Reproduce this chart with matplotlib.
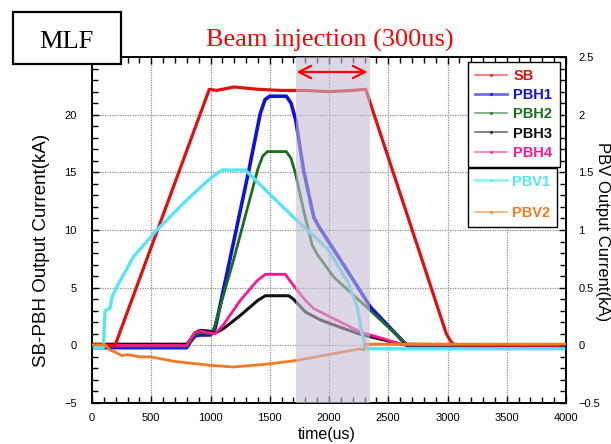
import matplotlib
matplotlib.use("Agg")
import matplotlib.pyplot as plt
from matplotlib.lines import Line2D
from matplotlib.patches import Rectangle
from matplotlib.ticker import MultipleLocator

plt.rcParams['font.family'] = ['Liberation Sans', 'DejaVu Sans']

# ---- data (time in us, SB/PBH in kA on left axis, PBV in kA on right axis) ----
sb_t = [0, 195, 990, 1050, 1200, 1400, 1600, 1800, 2000, 2200, 2310, 2760, 2990, 3030, 3060, 4000]
sb_v = [0, 0, 22.2, 22.1, 22.4, 22.2, 22.1, 22.1, 22.0, 22.1, 22.2, 8.2, 1.0, 0.3, 0.05, 0.05]

pbh1_t = [0, 800, 830, 870, 910, 1000, 1040, 1165, 1320, 1420, 1460, 1500, 1640, 1680, 1720, 1785,
          1872, 1914, 2097, 2351, 2665, 4000]
pbh1_v = [-0.2, -0.2, 0.3, 0.8, 0.9, 0.9, 1.5, 7.5, 15.0, 20.1, 21.3, 21.6, 21.6, 21.0, 19.5, 15.2,
          11.1, 10.3, 7.4, 3.3, -0.1, -0.1]

pbh2_t = [0, 800, 830, 870, 910, 1000, 1030, 1200, 1400, 1440, 1480, 1640, 1680, 1717, 1790, 1858,
          1900, 2041, 2351, 2665, 4000]
pbh2_v = [-0.1, -0.1, 0.3, 0.9, 1.1, 1.0, 1.5, 7.6, 15.3, 16.4, 16.8, 16.8, 16.2, 14.9, 11.5, 8.7,
          7.9, 5.9, 3.0, 0.0, 0.0]

pbh3_t = [0, 800, 830, 870, 913, 980, 1040, 1110, 1252, 1400, 1463, 1660, 1700, 1800, 1928, 2100,
          2266, 2450, 2605, 4000]
pbh3_v = [0.1, 0.1, 0.5, 1.1, 1.3, 1.25, 1.07, 1.45, 2.6, 3.9, 4.3, 4.3, 4.0, 2.9, 2.2, 1.55,
          0.95, 0.5, 0.1, 0.0]

pbh4_t = [0, 800, 830, 870, 913, 980, 1040, 1110, 1252, 1393, 1463, 1630, 1700, 1800, 1872, 2266,
          2450, 2620, 4000]
pbh4_v = [0.0, 0.0, 0.5, 1.1, 1.25, 1.1, 1.0, 1.8, 3.9, 5.6, 6.16, 6.16, 5.2, 3.9, 3.18, 1.15,
          0.6, 0.05, 0.0]

pbv1_t = [0, 96, 110, 150, 170, 209, 349, 547, 800, 1000, 1097, 1294, 1421, 1731, 1985, 2154,
          2238, 2280, 2309, 4000]
pbv1_v = [-0.02, -0.02, 0.30, 0.32, 0.42, 0.506, 0.766, 1.0, 1.26, 1.45, 1.52, 1.52, 1.39, 1.08,
          0.84, 0.56, 0.33, 0.10, -0.03, -0.03]

pbv2_t = [0, 110, 150, 200, 250, 300, 400, 496, 700, 998, 1195, 1505, 1731, 2041, 2266, 2290,
          2310, 4000]
pbv2_v = [0.005, 0.005, -0.04, -0.06, -0.09, -0.08, -0.10, -0.10, -0.14, -0.173, -0.188, -0.16,
          -0.13, -0.072, -0.03, -0.04, 0.01, 0.01]

inj_start, inj_end = 1725, 2350
arrow_y = 23.7

x_ticks = [0, 500, 1000, 1500, 2000, 2500, 3000, 3500, 4000]
left_ticks = [-5, 0, 5, 10, 15, 20]
right_ticks = [-0.5, 0, 0.5, 1, 1.5, 2, 2.5]

# ---- figure ----
W, H = 611, 444
fig = plt.figure(figsize=(W / 100, H / 100), dpi=100)
ax = fig.add_axes([92 / W, 1 - 403 / H, (566 - 92) / W, (403 - 57) / H])
ax2 = ax.twinx()

red, blue, green, black, pink, cyan, orange = ('#e01010', '#1010e0', '#1a6e1a', '#111111',
                                               '#ff1493', '#55e5f5', '#f27a20')

ax.plot(pbh1_t, pbh1_v, color=blue, lw=2.6, zorder=3)
ax.plot(pbh2_t, pbh2_v, color=green, lw=2.0, zorder=3)
ax.plot(pbh3_t, pbh3_v, color=black, lw=2.2, zorder=3)
ax.plot(pbh4_t, pbh4_v, color=pink, lw=2.0, zorder=4)
ax.plot(sb_t, sb_v, color=red, lw=2.3, zorder=4)

ax2.plot(pbv1_t, pbv1_v, color=cyan, lw=2.4, zorder=2)
ax2.plot(pbv2_t, pbv2_v, color=orange, lw=2.0, zorder=3)

ax2.axvspan(inj_start, inj_end, facecolor='#c5bcd4', alpha=0.6, lw=0, zorder=5)

ax.set_xlim(0, 4000)
ax.set_ylim(-5, 25)
ax2.set_ylim(-0.5, 2.5)
ax.set_xticks(x_ticks)
ax.set_yticks(left_ticks)
ax2.set_yticks(right_ticks)
ax.set_yticklabels(['\u22125', '0', '5', '10', '15', '20'])
ax2.set_yticklabels(['\u22120.5', '0', '0.5', '1', '1.5', '2', '2.5'])
ax.xaxis.set_minor_locator(MultipleLocator(100))
ax.yaxis.set_minor_locator(MultipleLocator(1))
ax2.yaxis.set_minor_locator(MultipleLocator(0.1))

ax.grid(True, which='major', color='#8a8a8a', linestyle=(0, (1, 1)), lw=0.9)
ax.set_axisbelow(True)

ax.tick_params(axis='x', which='both', direction='in', top=True, labelsize=8, pad=7)
ax.tick_params(axis='y', which='both', direction='in', labelsize=8, pad=11)
ax2.tick_params(axis='y', which='both', direction='in', labelsize=8, pad=9)
for a in (ax, ax2):
    a.tick_params(which='major', length=5, width=1)
    a.tick_params(which='minor', length=4, width=1)
    for s in a.spines.values():
        s.set_linewidth(1.2)

ax.set_xlabel('time(us)', fontsize=11.5)
ax.xaxis.set_label_coords(0.496, -0.07)
ax.set_ylabel('SB-PBH Output Current(kA)', fontsize=13.5)
ax.yaxis.set_label_coords(-0.089, 0.44)
ax2.set_ylabel('PBV Output Current(kA)', fontsize=12, rotation=270, va='center')
ax2.yaxis.set_label_coords(1.078, 0.494)

# injection arrow
ax2.annotate('', xy=(inj_start, arrow_y / 10), xytext=(inj_end - 25, arrow_y / 10),
             arrowprops=dict(arrowstyle='<->', color='red', lw=1.6,
                             mutation_scale=22, shrinkA=0, shrinkB=0), zorder=6)

# legends
def handle(c, lw=1.2):
    return Line2D([], [], color=c, lw=lw, marker='.', markersize=3, alpha=0.6)

leg1 = ax2.legend([handle(red), handle(blue, 2), handle(green), handle(black), handle(pink)],
                  ['SB', 'PBH1', 'PBH2', 'PBH3', 'PBH4'],
                  loc='upper left', bbox_to_anchor=(468 / W, 1 - 62 / H),
                  bbox_transform=fig.transFigure, borderaxespad=0, fancybox=False, framealpha=1,
                  edgecolor='black', prop={'weight': 'bold', 'size': 10.5},
                  labelcolor=[red, blue, green, black, pink], labelspacing=0.35,
                  handlelength=2.2, handletextpad=0.4, borderpad=0.5)
leg1.get_frame().set_linewidth(1.0)
leg1.set_zorder(10)
ax2.add_artist(leg1)
leg2 = ax2.legend([handle(cyan, 2), handle(orange)], ['PBV1', 'PBV2'],
                  loc='upper left', bbox_to_anchor=(468 / W, 1 - 168 / H),
                  bbox_transform=fig.transFigure, borderaxespad=0, fancybox=False, framealpha=1,
                  edgecolor='black', prop={'weight': 'bold', 'size': 10.5},
                  labelcolor=[cyan, orange], labelspacing=1.2,
                  handlelength=2.2, handletextpad=0.4, borderpad=0.45)
leg2.get_frame().set_linewidth(1.0)
leg2.set_zorder(10)

# title and MLF box
fig.text(330 / W, 1 - 47 / H, 'Beam injection (300us)', color='red', fontsize=19,
         family=['Liberation Serif', 'DejaVu Serif'], ha='center', va='baseline')
fig.patches.append(Rectangle((13 / W, 1 - 64 / H), 108 / W, 52 / H, transform=fig.transFigure,
                             facecolor='white', edgecolor='black', lw=1.6, zorder=5))
fig.text(66 / W, 1 - 47.5 / H, 'MLF', color='black', fontsize=19,
         family=['Liberation Serif', 'DejaVu Serif'], ha='center', va='baseline', zorder=6)

fig.savefig('out.png', dpi=100)
